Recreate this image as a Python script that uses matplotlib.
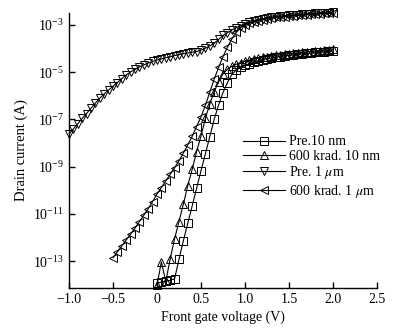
import matplotlib
matplotlib.use('Agg')
import matplotlib.pyplot as plt
import numpy as np

plt.rcParams['font.family'] = ['Liberation Serif', 'DejaVu Serif']
plt.rcParams['mathtext.fontset'] = 'stix'
plt.rcParams['font.size'] = 10

# gate voltage sweep (V), step 0.05
v_sweep = [-1.00, -0.95, -0.90, -0.85, -0.80, -0.75, -0.70, -0.65, -0.60, -0.55,
           -0.50, -0.45, -0.40, -0.35, -0.30, -0.25, -0.20, -0.15, -0.10, -0.05,
           0.00, 0.05, 0.10, 0.15, 0.20, 0.25, 0.30, 0.35, 0.40, 0.45,
           0.50, 0.55, 0.60, 0.65, 0.70, 0.75, 0.80, 0.85, 0.90, 0.95,
           1.00, 1.05, 1.10, 1.15, 1.20, 1.25, 1.30, 1.35, 1.40, 1.45,
           1.50, 1.55, 1.60, 1.65, 1.70, 1.75, 1.80, 1.85, 1.90, 1.95, 2.00]

v_10nm = v_sweep[20:]      # 0 .. 2 V
v_1um_pre = v_sweep        # -1 .. 2 V
v_1um_rad = v_sweep[10:]   # -0.5 .. 2 V

# log10 of drain current (A)
log_pre_10nm = [-13.93, -13.87, -13.84, -13.80, -13.74, -12.92, -12.13, -11.39, -10.66, -9.92,
                -9.17, -8.46, -7.73, -7.00, -6.39, -5.87, -5.45, -5.10, -4.92, -4.80,
                -4.72, -4.65, -4.58, -4.52, -4.47, -4.43, -4.40, -4.37, -4.34, -4.31,
                -4.29, -4.27, -4.25, -4.23, -4.21, -4.19, -4.17, -4.15, -4.14, -4.12, -4.11]

log_rad_10nm = [-14.02, -13.02, -13.85, -12.90, -12.05, -11.32, -10.58, -9.80, -9.11, -8.37,
                -7.70, -6.96, -6.35, -5.83, -5.41, -5.08, -4.88, -4.76, -4.67, -4.60,
                -4.54, -4.49, -4.45, -4.41, -4.38, -4.35, -4.32, -4.29, -4.27, -4.25,
                -4.23, -4.21, -4.19, -4.17, -4.15, -4.13, -4.11, -4.09, -4.07, -4.06, -4.04]

log_pre_1um = [-7.62, -7.40, -7.18, -6.96, -6.75, -6.53, -6.31, -6.10, -5.92, -5.76,
               -5.60, -5.44, -5.28, -5.12, -4.99, -4.88, -4.78, -4.69, -4.62, -4.55,
               -4.49, -4.44, -4.39, -4.35, -4.30, -4.26, -4.22, -4.19, -4.16, -4.13,
               -4.07, -3.99, -3.89, -3.78, -3.62, -3.45, -3.33, -3.22, -3.12, -3.03,
               -2.96, -2.90, -2.85, -2.80, -2.76, -2.72, -2.69, -2.66, -2.64, -2.62,
               -2.60, -2.59, -2.57, -2.56, -2.54, -2.53, -2.52, -2.51, -2.49, -2.48, -2.47]

log_rad_1um = [-12.85, -12.60, -12.35, -12.10, -11.85, -11.60, -11.32, -11.05, -10.78, -10.48,
               -10.15, -9.88, -9.60, -9.32, -9.05, -8.75, -8.42, -8.08, -7.72, -7.30,
               -6.90, -6.40, -5.85, -5.30, -4.80, -4.35, -3.95, -3.60, -3.32, -3.13,
               -3.00, -2.93, -2.88, -2.83, -2.79, -2.75, -2.72, -2.69, -2.67, -2.65,
               -2.63, -2.62, -2.60, -2.59, -2.57, -2.56, -2.55, -2.54, -2.52, -2.51, -2.50]

labels = ['Pre.10 nm', '600 krad. 10 nm', r'Pre. 1 $\mu$m', r'600 krad. 1 $\mu$m']
markers = ['s', '^', 'v', '<']

fig = plt.figure(figsize=(4.08, 3.33), dpi=100)
ax = fig.add_axes([0.169, 0.135, 0.755, 0.826])

series = [(v_10nm, log_pre_10nm), (v_10nm, log_rad_10nm),
          (v_1um_pre, log_pre_1um), (v_1um_rad, log_rad_1um)]
for (v, logi), lab, m in zip(series, labels, markers):
    ax.plot(v, 10.0 ** np.array(logi), color='black', lw=0.8, marker=m,
            ms=5.5, mfc='none', mec='black', mew=0.7, label=lab, clip_on=False)

ax.set_yscale('log')
ax.set_xlim(-1.0, 2.5)
ax.set_ylim(10 ** -14.13, 10 ** -2.5)
ax.set_yticks([1e-13, 1e-11, 1e-9, 1e-7, 1e-5, 1e-3])
ax.yaxis.set_minor_locator(matplotlib.ticker.NullLocator())
ax.set_xticks([-1.0, -0.5, 0, 0.5, 1.0, 1.5, 2.0, 2.5])
ax.set_xticklabels(['\u22121.0', '\u22120.5', '0', '0.5', '1.0', '1.5', '2.0', '2.5'])
ax.tick_params(direction='in', length=4, width=1, labelsize=10)

for s in ['top', 'right']:
    ax.spines[s].set_visible(False)
for s in ['left', 'bottom']:
    ax.spines[s].set_linewidth(1.0)

ax.set_xlabel('Front gate voltage (V)', fontsize=10, labelpad=3)
ax.set_ylabel('Drain current (A)', fontsize=10.5, labelpad=4)

ax.legend(loc='upper left', bbox_to_anchor=(0.565, 0.555), frameon=False,
          handlelength=3.0, handletextpad=0.3, labelspacing=0.1,
          borderpad=0, borderaxespad=0, fontsize=10)

plt.savefig('out.png', dpi=100)
